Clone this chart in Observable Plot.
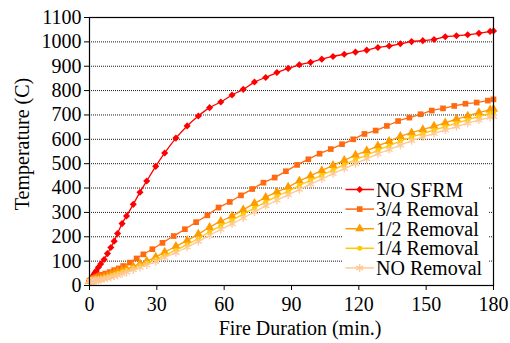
<!DOCTYPE html>
<html>
<head>
<meta charset="utf-8">
<script src="https://cdn.jsdelivr.net/npm/d3@7"></script>
<script src="https://cdn.jsdelivr.net/npm/@observablehq/plot@0.6"></script>
<style>
  html, body { margin: 0; padding: 0; background: #fff; }
  svg { display: block; }
</style>
</head>
<body>
<div id="chart"></div>
<script>
// Shared time grid (min.) for NO SFRM, 1/2, 1/4 and NO Removal
const T = [0,0.5,1,1.5,2,2.5,3,4,5,6.5,8,9.5,11,12.5,14.5,16.5,19.5,22.5,25.5,29.5,33.5,
  38.5,43.5,48.5,53.5,58.5,63.5,68.5,73.5,78.5,83.5,88.5,93.5,98.5,103.5,108.5,113.5,118.5,
  123.5,128.5,133.5,138.5,143.5,148.5,153.5,158.5,163.5,168.5,173.5,178.5,180];
// Time grid for 3/4 Removal
const T34 = [0,1,2,3,4,5,7,9,11,13,15,18,21,24,28,32.5,37.5,42.5,47.5,52.5,57.5,62.5,67.5,
  72.5,77.5,82.5,87.5,92.5,97.5,102.5,107.5,112.5,117.5,122.5,127.5,132.5,137.5,142.5,147.5,
  152.5,157.5,162.5,167.5,172.5,177.5,180];

const noSFRM = [20,25,32,38,46,53,60,75,88,107,131,156,182,213,254,285,333,383,429,489,544,
  605,655,696,730,753,782,805,835,854,874,891,906,916,929,940,949,958,966,977,983,
  992,1001,1005,1010,1021,1025,1029,1035,1043,1045];
const rem34 = [20,24,30,35,40,44,49,55,63,70,80,94,111,128,149,
  175,203,231,260,288,320,343,370,396,422,443,469,495,518,541,560,580,600,622,636,
  655,675,689,703,718,727,737,746,751,759,764];
const rem12 = [18,19,20,21,22,23,24,27,30,34,39,44,50,56,62,68,78,89,100,117,137,
  161,185,211,239,264,285,311,337,362,384,404,429,450,472,493,514,535,553,573,592,
  612,627,640,654,668,683,696,710,721,724];
const rem14 = [18,18,19,20,20,21,22,24,26,30,34,38,43,48,55,62,72,82,92,107,124,
  145,168,193,220,245,268,293,318,343,366,387,410,432,453,474,496,516,535,555,574,
  593,609,623,638,652,666,680,694,706,709];
const noRem = [18,18,18,19,19,20,20,22,24,27,30,34,38,42,48,55,64,74,84,98,115,
  135,157,181,206,230,253,277,302,327,350,372,394,416,437,459,480,500,520,540,558,
  576,594,610,624,638,652,666,679,690,693];

const seriesNames = ["NO SFRM","3/4 Removal","1/2 Removal","1/4 Removal","NO Removal"];
const xTicks = [0,30,60,90,120,150,180];
const yTicks = [0,100,200,300,400,500,600,700,800,900,1000,1100];
const gridTicks = [100,200,300,400,500,600,700,800,900,1000];

const FONT = "'Liberation Serif', 'Times New Roman', serif";

const series = [
  {name: seriesNames[0], t: T,   v: noSFRM, color: "#ff0000", symbol: "diamond2", r: 3.2, fill: true},
  {name: seriesNames[1], t: T34, v: rem34,  color: "#ff6a10", symbol: "square",   r: 3.2, fill: true},
  {name: seriesNames[2], t: T,   v: rem12,  color: "#ff9a00", symbol: "triangle", r: 3.4, fill: true},
  {name: seriesNames[3], t: T,   v: rem14,  color: "#ffc800", symbol: "circle",   r: 2.5, fill: true},
  {name: seriesNames[4], t: T,   v: noRem,  color: "#ffc896", symbol: "asterisk", r: 3.8, fill: false}
];

const marks = [
  Plot.gridY(gridTicks, {stroke: "#000", strokeOpacity: 0.9, strokeDasharray: "1,1"}),
  Plot.axisX(xTicks, {tickSize: 5, tickPadding: 6, label: null, fontSize: 20, tickFormat: d => String(d)}),
  Plot.axisY(yTicks, {tickSize: 5, tickPadding: 3, label: null, fontSize: 20, tickFormat: d => String(d)})
];
for (const s of series) {
  const rows = s.t.map((t, i) => ({t, v: s.v[i]}));
  marks.push(Plot.line(rows, {x: "t", y: "v", stroke: s.color, strokeWidth: 1.3, curve: "monotone-x"}));
  marks.push(Plot.dot(rows, s.fill
    ? {x: "t", y: "v", symbol: () => s.symbol, r: s.r, fill: s.color, stroke: "none"}
    : {x: "t", y: "v", symbol: () => s.symbol, r: s.r, fill: "none", stroke: s.color, strokeWidth: 1.3}));
}
marks.push(Plot.frame({stroke: "#000", strokeWidth: 1.2}));

const chart = Plot.plot({
  width: 510,
  height: 343,
  marginLeft: 89,
  marginRight: 17,
  marginTop: 17,
  marginBottom: 58,
  style: {fontFamily: FONT, fontSize: "20px", color: "#000", background: "#fff"},
  x: {domain: [0, 180], label: null},
  y: {domain: [0, 1100], label: null},
  symbol: {type: "identity"},
  marks
});
document.getElementById("chart").appendChild(chart);

// Axis titles and in-plot legend (layout only)
const svg = d3.select(chart);
svg.append("text")
  .attr("x", 300).attr("y", 335)
  .attr("text-anchor", "middle")
  .attr("font-family", FONT).attr("font-size", 20).attr("fill", "#000")
  .text("Fire Duration (min.)");
svg.append("text")
  .attr("transform", "translate(29,144) rotate(-90)")
  .attr("text-anchor", "middle")
  .attr("font-family", FONT).attr("font-size", 20).attr("fill", "#000")
  .text("Temperature (C)");

const lg = svg.append("g");
lg.append("rect").attr("x", 343).attr("y", 177).attr("width", 146).attr("height", 104).attr("fill", "#fff");
const symMap = {diamond2: d3.symbolDiamond2, square: d3.symbolSquare, triangle: d3.symbolTriangle, circle: d3.symbolCircle, asterisk: d3.symbolAsterisk};
series.forEach((s, i) => {
  const y = 189.5 + i * 19.6;
  const g = lg.append("g");
  g.append("line").attr("x1", 345.5).attr("x2", 374).attr("y1", y).attr("y2", y)
    .attr("stroke", s.color).attr("stroke-width", 1.5);
  const p = g.append("path")
    .attr("transform", `translate(359.7,${y})`)
    .attr("d", d3.symbol(symMap[s.symbol], Math.PI * s.r * s.r)());
  if (s.fill) p.attr("fill", s.color); else p.attr("fill", "none").attr("stroke", s.color).attr("stroke-width", 1.3);
  g.append("text").attr("x", 376).attr("y", y).attr("dy", "0.35em")
    .attr("text-anchor", "start")
    .attr("font-family", FONT).attr("font-size", 20).attr("fill", "#000")
    .text(s.name);
});
</script>
</body>
</html>
